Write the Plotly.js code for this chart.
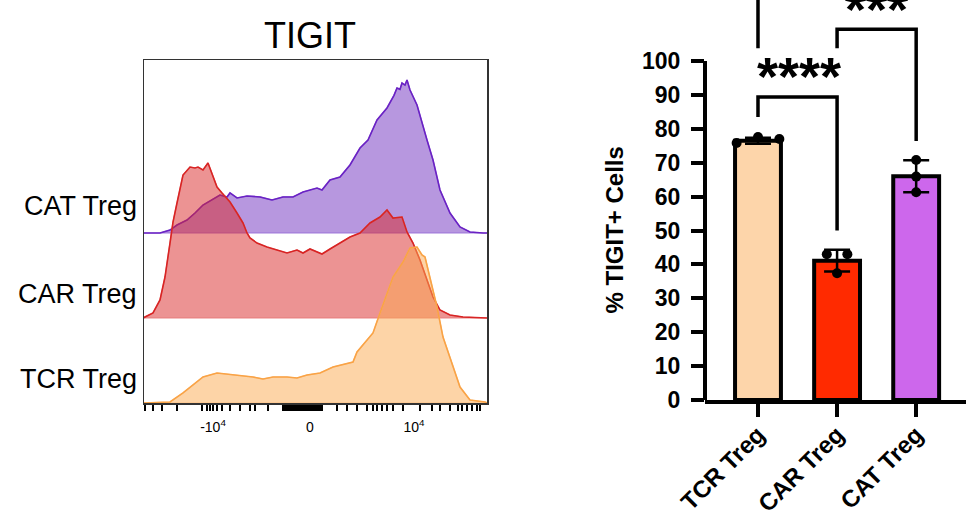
<!DOCTYPE html>
<html><head><meta charset="utf-8">
<script src="https://cdn.plot.ly/plotly-3.0.1.min.js"></script>
<style>html,body{margin:0;padding:0;background:#fff}#chart{width:966px;height:516px}</style>
</head><body><div id="chart"></div>
<script>
// ---------- Histogram data (display-scale x, mode-normalised count) ----------
const catX = [-1.67,-1.50,-1.40,-1.33,-1.23,-1.15,-1.07,-0.98,-0.90,-0.83,-0.80,-0.73,-0.63,-0.50,-0.38,-0.27,-0.17,-0.07,0.07,0.12,0.20,0.30,0.40,0.50,0.58,0.67,0.77,0.84,0.87,0.90,0.92,0.95,0.97,1.00,1.07,1.17,1.23,1.30,1.40,1.50,1.60,1.73,1.77];
const catH = [0,0,0.035,0.094,0.153,0.235,0.329,0.388,0.447,0.424,0.471,0.412,0.435,0.424,0.388,0.424,0.424,0.482,0.529,0.506,0.624,0.659,0.80,1.00,1.094,1.329,1.471,1.62,1.706,1.69,1.765,1.74,1.80,1.682,1.506,1.094,0.859,0.506,0.235,0.071,0.012,0,0];
const carX = [-1.67,-1.57,-1.50,-1.45,-1.40,-1.37,-1.33,-1.30,-1.27,-1.20,-1.15,-1.12,-1.07,-1.02,-0.98,-0.93,-0.88,-0.80,-0.73,-0.67,-0.63,-0.60,-0.53,-0.43,-0.33,-0.23,-0.13,-0.07,0.00,0.12,0.20,0.30,0.40,0.50,0.60,0.70,0.77,0.83,0.92,0.97,1.03,1.10,1.17,1.23,1.30,1.40,1.53,1.77];
const carH = [0,0.059,0.212,0.482,0.882,1.129,1.353,1.506,1.682,1.776,1.765,1.776,1.741,1.824,1.706,1.541,1.471,1.365,1.235,1.118,1.0,0.941,0.882,0.835,0.80,0.765,0.80,0.765,0.812,0.753,0.812,0.882,0.953,1.0,1.118,1.188,1.271,1.176,1.188,1.012,0.882,0.682,0.447,0.247,0.094,0.035,0.012,0];
const tcrX = [-1.67,-1.40,-1.27,-1.17,-1.07,-0.93,-0.83,-0.70,-0.57,-0.47,-0.37,-0.23,-0.13,-0.03,0.10,0.23,0.37,0.43,0.47,0.57,0.63,0.70,0.77,0.83,0.93,1.00,1.07,1.12,1.15,1.20,1.27,1.33,1.42,1.50,1.60,1.75,1.77];
const tcrH = [0,0.012,0.118,0.212,0.306,0.353,0.341,0.329,0.306,0.282,0.306,0.306,0.294,0.329,0.353,0.424,0.471,0.482,0.60,0.741,0.824,1.059,1.294,1.482,1.659,1.824,1.835,1.741,1.718,1.482,1.129,0.776,0.471,0.188,0.035,0.012,0];
const histLabels = ['CAT Treg','CAR Treg','TCR Treg'];
const histTickVals = [-0.97, 0, 1.04];
const histTickText = ['-10<sup>4</sup>','0','10<sup>4</sup>'];
const histMinorTicks = [-1.65,-1.57,-1.48,-1.33,-1.08,-1.03,-1.0,-0.97,-0.93,-0.88,-0.8,-0.7,-0.6,-0.55,-0.42,
  -0.27,-0.25,-0.23,-0.21,-0.19,-0.17,-0.15,-0.13,-0.11,-0.09,-0.07,-0.05,-0.03,-0.01,0.01,0.03,0.05,0.07,0.09,0.11,0.12,
  0.27,0.37,0.47,0.57,0.63,0.67,0.72,0.77,0.83,0.93,1.1,1.22,1.3,1.4,1.48,1.52,1.57,1.62,1.67,1.7];

// ---------- Bar chart data ----------
const groups = ['TCR Treg','CAR Treg','CAT Treg'];
const means = [76.5, 41.1, 66.0];
const sds = [0.9, 3.2, 4.7];
const reps = [[75.8,77.6,77.0],[43.0,37.4,43.0],[70.8,65.9,61.3]];
const yTicks = [0,10,20,30,40,50,60,70,80,90,100];
const sigLabels = ['****','***'];

// ---------- styling / layout constants ----------
const W = 966, H = 516;
const FONT = 'Liberation Sans, Arial, sans-serif';
const histStyles = [
  {fill:'rgba(112,48,192,0.5)', edge:'rgba(150,110,215,0.9)', line:'#6a22c4'},
  {fill:'rgba(218,40,40,0.5)',  edge:'rgba(230,120,120,0.9)', line:'#d82424'},
  {fill:'rgba(252,170,80,0.5)', edge:'rgba(252,190,130,0.9)', line:'#f9a346'}
];
const histSets = [[catX,catH,2],[carX,carH,1],[tcrX,tcrH,0]];
const labelY = [2.32,1.28,0.28];
const barColors = ['#fdd5aa','#ff2a00','#cd67ec'];
const jitter = [[-0.27,0,0.27],[-0.13,0,0.13],[0,0,0]];

const traces = [];
histSets.forEach(([xs,hs,base],i)=>{
  const st = histStyles[i];
  const px = xs.concat(xs.slice().reverse());
  const py = hs.map(h=>h+base).concat(xs.map(()=>base));
  traces.push({type:'scatter', mode:'lines', x:px, y:py, fill:'toself', fillcolor:st.fill,
    line:{color:st.edge, width:1.2}, xaxis:'x', yaxis:'y', hoverinfo:'skip'});
  traces.push({type:'scatter', mode:'lines', x:xs, y:hs.map(h=>h+base),
    line:{color:st.line, width:1.6}, xaxis:'x', yaxis:'y', hoverinfo:'skip'});
});

traces.push({type:'bar', x:[0,1,2], y:means, width:0.58, xaxis:'x2', yaxis:'y2',
  marker:{color:barColors, line:{color:'#000', width:4}},
  error_y:{type:'data', array:sds, visible:true, color:'#000', thickness:2.5, width:13}});
const ptsX = [], ptsY = [];
reps.forEach((r,g)=>r.forEach((v,k)=>{ptsX.push(g+jitter[g][k]); ptsY.push(v);}));
traces.push({type:'scatter', mode:'markers', x:ptsX, y:ptsY, xaxis:'x2', yaxis:'y2',
  marker:{color:'#000', size:10}, cliponaxis:false});

const shapes = [];
shapes.push({type:'line', xref:'x2 domain', yref:'y2', x0:0, x1:0, y0:-0.6, y1:100, line:{color:'#000', width:4}});
// significance brackets: [g1,g2, leftBottom, rightBottom, top]
const brackets = [[0,1,83.5,50,89.4],[1,2,103.8,76.4,109.4],[0,2,103.8,124,130]];
brackets.forEach(([a,b,l,r,t])=>{
  shapes.push({type:'path', xref:'x2', yref:'y2',
    path:`M${a},${l} L${a},${t} L${b},${t} L${b},${r}`, line:{color:'#000', width:3.5}});
});

const annotations = [];
histLabels.forEach((t,i)=>{
  annotations.push({text:t, xref:'paper', yref:'y', x:139/W, y:labelY[i], xanchor:'right', yanchor:'middle',
    showarrow:false, font:{family:FONT, size:27, color:'#000'}});
});
annotations.push({text:'% TIGIT+ Cells', xref:'paper', yref:'y2', x:615/W, y:50, textangle:-90,
  xanchor:'center', yanchor:'middle', showarrow:false,
  font:{family:FONT, size:24, color:'#000', weight:'bold'}});
annotations.push({text:sigLabels[0], xref:'x2', yref:'y2', x:0.52, y:95.7, yanchor:'middle', xanchor:'center', showarrow:false,
  font:{family:FONT, size:54, color:'#000', weight:'bold'}});
annotations.push({text:sigLabels[1], xref:'x2', yref:'y2', x:1.5, y:115.2, yanchor:'middle', xanchor:'center', showarrow:false,
  font:{family:FONT, size:54, color:'#000', weight:'bold'}});

const layout = {
  width:W, height:H, margin:{l:0,r:0,t:0,b:0}, paper_bgcolor:'#fff', plot_bgcolor:'rgba(0,0,0,0)',
  showlegend:false,
  title:{text:'TIGIT', x:310/W, xanchor:'center', y:1-35/H, yanchor:'middle',
    font:{family:FONT, size:36, color:'#000'}},
  xaxis:{domain:[144/W, 487/W], range:[-1.66,1.77], showline:true, mirror:true, linecolor:'#333', linewidth:1.5,
    showgrid:false, zeroline:false, tickmode:'array', tickvals:histTickVals, ticktext:histTickText, ticks:'',
    ticklabelstandoff:11, tickfont:{family:FONT, size:14, color:'#000'},
    minor:{tickmode:'array', tickvals:histMinorTicks, ticks:'outside', ticklen:6, tickwidth:1.5, tickcolor:'#000', showgrid:false},
    anchor:'y', fixedrange:true},
  yaxis:{domain:[1-403/H, 1-60/H], range:[0, 343/85], showline:true, mirror:true, linecolor:'#333', linewidth:1.5,
    showgrid:false, zeroline:false, showticklabels:false, ticks:'', anchor:'x', fixedrange:true},
  xaxis2:{domain:[705/W, 1], range:[-0.67, 2.63], anchor:'y2', tickmode:'array', tickvals:[0,1,2], ticktext:groups,
    tickangle:-45, ticks:'outside', ticklen:13, tickwidth:4, tickcolor:'#000', showline:true, linewidth:4, linecolor:'#000',
    showgrid:false, zeroline:false, ticklabelstandoff:-6,
    tickfont:{family:FONT, size:24, color:'#000', weight:'bold'}},
  yaxis2:{domain:[1-400/H, 1], range:[0, 118], anchor:'x2', tickmode:'array', tickvals:yTicks,
    ticks:'outside', ticklen:13, tickwidth:4, tickcolor:'#000', showline:false, showgrid:false, zeroline:false,
    ticklabelstandoff:6, tickfont:{family:FONT, size:23, color:'#000', weight:'bold'}},
  shapes:shapes, annotations:annotations
};
Plotly.newPlot('chart', traces, layout, {staticPlot:true, displayModeBar:false});
</script></body></html>
